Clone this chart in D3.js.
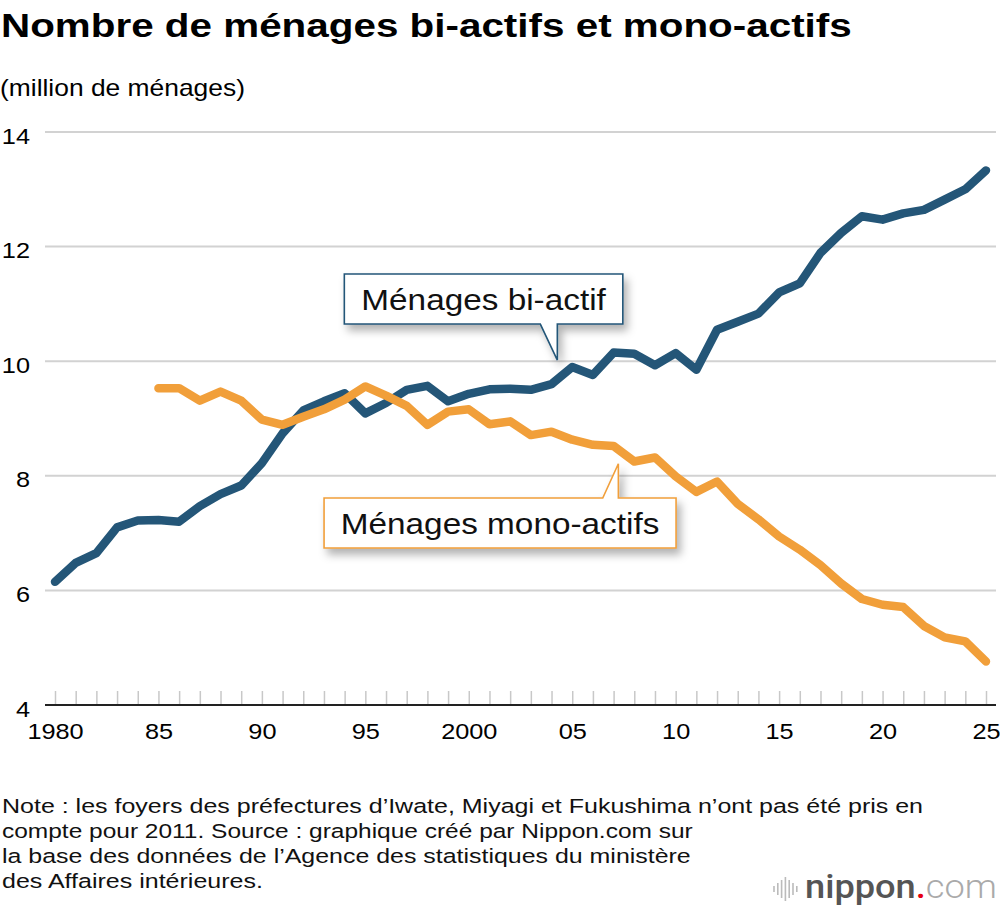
<!DOCTYPE html>
<html lang="fr">
<head>
<meta charset="UTF-8">
<title>Nombre de ménages bi-actifs et mono-actifs</title>
<script src="https://cdn.jsdelivr.net/npm/d3@7"></script>
<style>
  body { margin: 0; background: #fff; }
  svg { display: block; font-family: "Liberation Sans", Arial, Helvetica, sans-serif; }
</style>
</head>
<body>
<div id="chart"></div>
<script>
// years on the x axis
const years = [1980, 1981, 1982, 1983, 1984, 1985, 1986, 1987, 1988, 1989,
               1990, 1991, 1992, 1993, 1994, 1995, 1996, 1997, 1998, 1999,
               2000, 2001, 2002, 2003, 2004, 2005, 2006, 2007, 2008, 2009,
               2010, 2011, 2012, 2013, 2014, 2015, 2016, 2017, 2018, 2019,
               2020, 2021, 2022, 2023, 2024, 2025];

// million de ménages
const biActifs = [6.15, 6.48, 6.65, 7.10, 7.22, 7.23, 7.20, 7.47, 7.68, 7.83,
                  8.22, 8.74, 9.14, 9.30, 9.44, 9.09, 9.27, 9.50, 9.57, 9.30,
                  9.43, 9.51, 9.52, 9.50, 9.60, 9.90, 9.76, 10.15, 10.13, 9.93,
                  10.14, 9.85, 10.55, 10.69, 10.83, 11.20, 11.36, 11.89, 12.24, 12.53,
                  12.47, 12.58, 12.64, 12.82, 13.00, 13.33];

// no data before 1985
const monoActifs = [null, null, null, null, null, 9.53, 9.53, 9.31, 9.47, 9.31,
                    8.98, 8.89, 9.03, 9.16, 9.33, 9.56, 9.40, 9.22, 8.89, 9.12,
                    9.16, 8.90, 8.95, 8.71, 8.77, 8.63, 8.54, 8.52, 8.25, 8.32,
                    7.99, 7.72, 7.90, 7.51, 7.24, 6.94, 6.71, 6.44, 6.12, 5.85,
                    5.75, 5.71, 5.38, 5.18, 5.11, 4.76];

const yTicks = [4, 6, 8, 10, 12, 14];
const xLabelYears = [1980, 1985, 1990, 1995, 2000, 2005, 2010, 2015, 2020, 2025];
const xLabels = ["1980", "85", "90", "95", "2000", "05", "10", "15", "20", "25"];

const noteLines = [
  "Note : les foyers des préfectures d’Iwate, Miyagi et Fukushima n’ont pas été pris en",
  "compte pour 2011. Source : graphique créé par Nippon.com sur",
  "la base des données de l’Agence des statistiques du ministère",
  "des Affaires intérieures."
];

const blue = "#245678";
const orange = "#f19f3a";

const width = 1000, height = 912;

const svg = d3.select("#chart").append("svg")
  .attr("width", width)
  .attr("height", height);

svg.append("defs").append("filter")
  .attr("id", "shadow")
  .attr("x", "-20%").attr("y", "-40%")
  .attr("width", "150%").attr("height", "220%")
  .append("feDropShadow")
  .attr("dx", 4).attr("dy", 6)
  .attr("stdDeviation", 4)
  .attr("flood-color", "#000")
  .attr("flood-opacity", 0.3);

// text helper: the original type is a bit wider than Liberation Sans,
// so each text is stretched horizontally (to a width or by a factor)
function label(parent, str, x, y, size, opts = {}) {
  const t = parent.append("text")
    .attr("font-size", size)
    .attr("font-weight", opts.weight || "normal")
    .attr("fill", opts.fill || "#000")
    .attr("text-anchor", opts.anchor || "start")
    .text(str);
  let k = opts.stretch || 1;
  if (opts.width) k = opts.width / t.node().getComputedTextLength();
  t.attr("transform", `translate(${x},${y}) scale(${k},1)`);
  return t;
}

// scales
const x = d3.scaleLinear().domain([1980, 2025]).range([55, 986]);
const y = d3.scaleLinear().domain([4, 14]).range([705, 132]);

// title + unit
label(svg, "Nombre de ménages bi-actifs et mono-actifs", 1, 37, 32.5, {weight: "bold", width: 851});
label(svg, "(million de ménages)", 0, 96, 23, {width: 245});

// grid lines
svg.append("g")
  .selectAll("line")
  .data(yTicks.filter(d => d > 4))
  .join("line")
  .attr("x1", x.range()[0] - 10)
  .attr("x2", x.range()[1] + 10)
  .attr("y1", d => y(d))
  .attr("y2", d => y(d))
  .attr("stroke", "#d2d2d2")
  .attr("stroke-width", 2);

// y axis labels, right aligned
const yAxis = svg.append("g")
  .attr("transform", "translate(30,0)")
  .call(d3.axisLeft(y).tickValues(yTicks).tickSize(0).tickPadding(0))
  .attr("font-family", null)
  .attr("font-size", 22);
yAxis.select(".domain").remove();
yAxis.selectAll("text")
  .attr("x", 0)
  .attr("dy", null)
  .attr("y", 11)
  .attr("fill", "#000")
  .attr("transform", "scale(1.15,1)");

// x axis: a small tick per year, label every 5 years
const labelOf = new Map(xLabelYears.map((d, i) => [d, xLabels[i]]));
const xAxis = svg.append("g")
  .attr("transform", `translate(0,${y(4)})`)
  .call(d3.axisBottom(x)
    .tickValues(years)
    .tickSizeInner(-14)
    .tickSizeOuter(0)
    .tickFormat(d => labelOf.get(d) || ""))
  .attr("font-family", null)
  .attr("font-size", 22);
xAxis.select(".domain").remove();
xAxis.selectAll(".tick line")
  .attr("stroke", "#c8c8c8")
  .attr("stroke-width", 1.5);
xAxis.selectAll("text")
  .attr("dy", null)
  .attr("y", 34)
  .attr("fill", "#000")
  .attr("transform", "scale(1.15,1)");
xAxis.append("line")
  .attr("x1", x.range()[0] - 10)
  .attr("x2", x.range()[1] + 10)
  .attr("stroke", "#222")
  .attr("stroke-width", 2);

// lines
const series = [
  {name: "bi", values: biActifs, color: blue},
  {name: "mono", values: monoActifs, color: orange}
];

const line = d3.line()
  .defined(d => d.v != null)
  .x(d => x(d.year))
  .y(d => y(d.v));

svg.append("g")
  .selectAll("path")
  .data(series)
  .join("path")
  .attr("fill", "none")
  .attr("stroke", d => d.color)
  .attr("stroke-width", 8.5)
  .attr("stroke-linecap", "round")
  .attr("stroke-linejoin", "round")
  .attr("d", d => line(years.map((yr, i) => ({year: yr, v: d.values[i]}))));

// callouts: tip in data units, box offsets in px from the tip
const callouts = [
  {text: "Ménages bi-actif", color: blue, tip: [2004.28, 10.02],
   box: [-213, -86, 65.5, -36], base: -17, dir: "down"},
  {text: "Ménages mono-actifs", color: orange, tip: [2007.23, 8.21],
   box: [-294.3, 34.3, 57.7, 84.3], base: -15.6, dir: "up"}
];

callouts.forEach(c => {
  const tx = x(c.tip[0]), ty = y(c.tip[1]);
  const l = tx + c.box[0], t = ty + c.box[1], r = tx + c.box[2], b = ty + c.box[3];
  const p = d3.path();
  if (c.dir === "down") {
    p.moveTo(l, t); p.lineTo(r, t); p.lineTo(r, b); p.lineTo(tx, b);
    p.lineTo(tx, ty); p.lineTo(tx + c.base, b); p.lineTo(l, b); p.closePath();
  } else {
    p.moveTo(l, t); p.lineTo(tx + c.base, t); p.lineTo(tx, ty); p.lineTo(tx, t);
    p.lineTo(r, t); p.lineTo(r, b); p.lineTo(l, b); p.closePath();
  }
  svg.append("path")
    .attr("d", p.toString())
    .attr("fill", "#fff")
    .attr("stroke", c.color)
    .attr("stroke-width", 1.6)
    .attr("filter", "url(#shadow)");
  label(svg, c.text, (l + r) / 2, b - 14, 29.5, {anchor: "middle", stretch: 1.13, fill: "#111"});
});

// note
const noteWidths = [922, 691, 689, 261];
noteLines.forEach((s, i) => {
  label(svg, s, 2, 813 + i * 25, 19.5, {width: noteWidths[i], fill: "#111"});
});

// nippon.com logo
const logo = svg.append("g");
const bars = [6, 12, 18, 24, 18, 12, 6];
logo.selectAll("line")
  .data(bars)
  .join("line")
  .attr("x1", (d, i) => 774 + i * 3.8)
  .attr("x2", (d, i) => 774 + i * 3.8)
  .attr("y1", d => 889 - d / 2)
  .attr("y2", d => 889 + d / 2)
  .attr("stroke", "#bbb")
  .attr("stroke-width", 1.6);
const lt = logo.append("text")
  .attr("font-family", "Roboto, 'Open Sans', sans-serif")
  .attr("font-size", 33);
lt.append("tspan").attr("fill", "#555").attr("font-weight", 500).text("nippon");
lt.append("tspan").attr("fill", "#e60012").attr("font-weight", 500).text(".");
lt.append("tspan").attr("fill", "#aaa").attr("font-weight", 300).text("com");
const lk = 192 / lt.node().getComputedTextLength();
lt.attr("transform", `translate(805,898) scale(${lk},1)`);
</script>
</body>
</html>
